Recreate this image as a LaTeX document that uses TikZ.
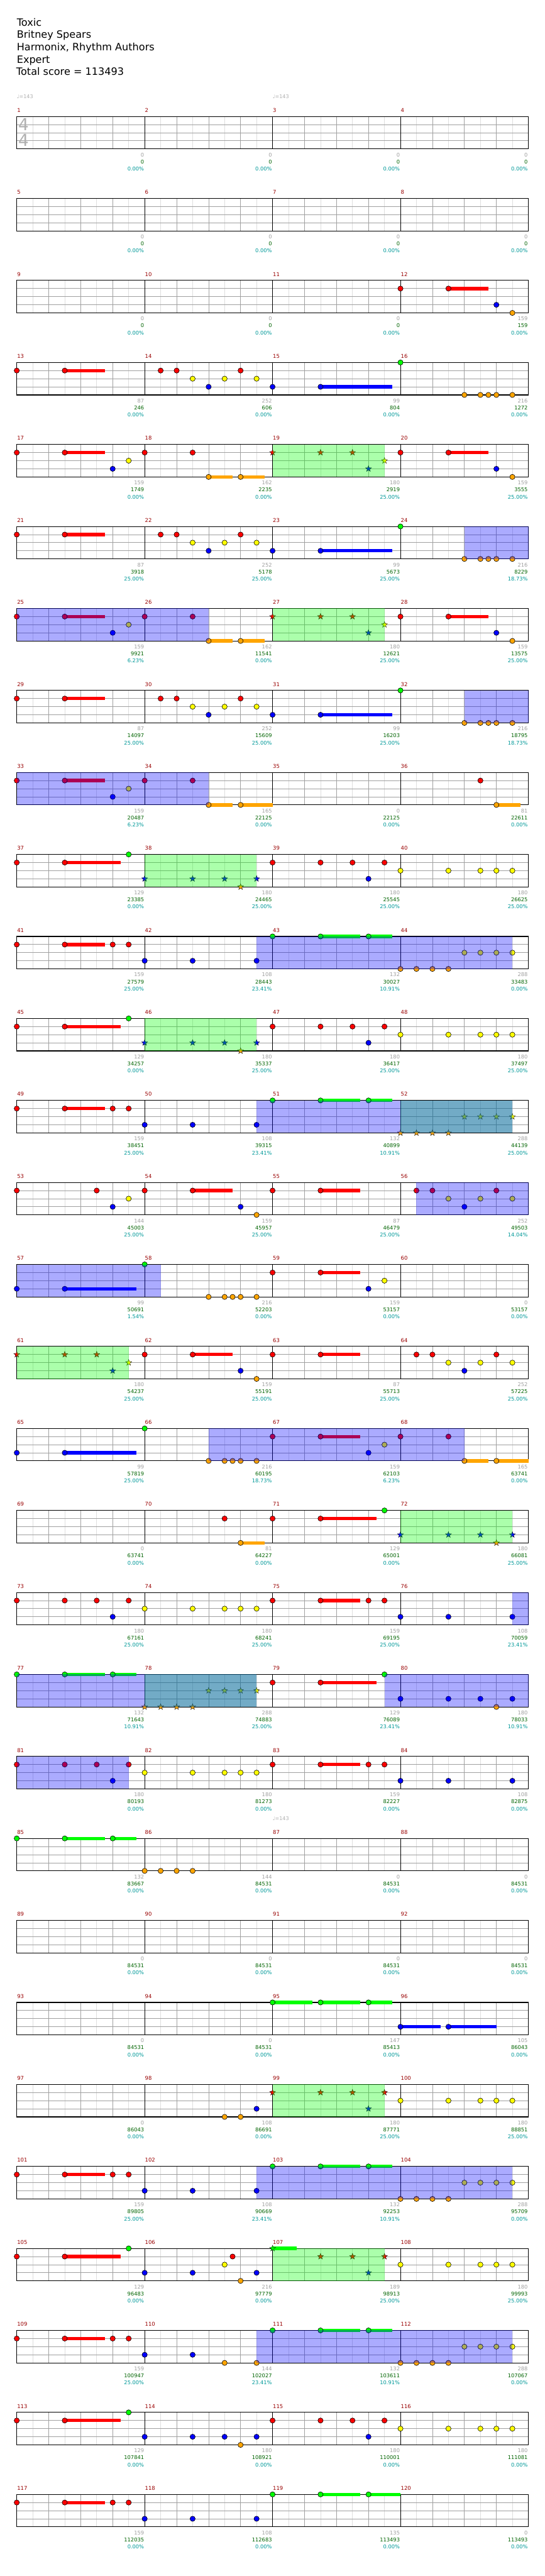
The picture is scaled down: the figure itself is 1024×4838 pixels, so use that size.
\documentclass[tikz,border=0pt]{standalone}
\usepackage{fontspec}
\setmainfont{DejaVu Sans}
\definecolor{cG}{RGB}{0,255,0}
\definecolor{cR}{RGB}{255,0,0}
\definecolor{cY}{RGB}{255,255,0}
\definecolor{cB}{RGB}{0,0,255}
\definecolor{cO}{RGB}{255,165,0}
\definecolor{gLight}{RGB}{222,222,222}
\definecolor{gMid}{RGB}{160,160,160}
\definecolor{mred}{RGB}{153,0,0}
\definecolor{ngray}{RGB}{160,160,160}
\definecolor{ngreen}{RGB}{0,100,0}
\definecolor{nteal}{RGB}{0,153,153}
\definecolor{tgray}{RGB}{175,175,175}
\def\lyG{0}\def\lyR{15.25}\def\lyY{30.5}\def\lyB{45.75}\def\lyO{61}
\tikzset{
  note/.style={draw=black,line width=0.7pt},
  starst/.style={draw=black,line width=0.4pt,line join=miter},
  mnum/.style={anchor=base west,inner sep=0pt,xshift=0.5pt,text=mred,font=\fontsize{10}{12}\selectfont},
  bnum/.style={anchor=base east,inner sep=0pt,xshift=-1pt,font=\fontsize{9.8}{11}\selectfont},
  tempo/.style={anchor=base west,inner sep=0pt,text=tgray,font=\fontsize{9.5}{11}\selectfont},
  tsig/.style={anchor=center,inner sep=0pt,text=tgray,font=\fontsize{31}{31}\selectfont},
  titletext/.style={anchor=base west,inner sep=0pt,font=\fontsize{19}{23}\selectfont}
}
\newcommand\Grd[1]{%
  \foreach \k in {1,3,...,31} \draw[gLight,line width=0.8pt] (\k,0) -- (\k,61);
  \foreach \k in {2,4,6,10,12,14,18,20,22,26,28,30} \draw[gMid,line width=0.8pt] (\k,0) -- (\k,61);
  \foreach \l in {15.25,30.5,45.75} \draw[gMid,line width=1pt] (0,\l) -- (32,\l);
  \foreach \k in {8,16,24} \draw[black,line width=0.8pt] (\k,0) -- (\k,61);
  \draw[black,line width=1.3pt] (0,0) rectangle (32,61);
  \foreach \k in {0,1,2,3}{\pgfmathtruncatemacro\mm{#1+\k}\node[mnum] at (8*\k,-8) {\mm};}
}
\newcommand\RowBegin[2]{\pgfmathsetmacro\T{218.7+154*(#1-1)}\begin{scope}[shift={(31.5pt,-\T pt)},x=30.04pt,y=-1pt]\Grd{#2}}
\newcommand\RowEnd{\end{scope}}
\newcommand\Nt[2]{\edef\yy{\csname ly#1\endcsname}\draw[note,fill=c#1] (#2,\yy) circle[radius=4.9pt];}
\newcommand\Ns[3]{\edef\yy{\csname ly#1\endcsname}\draw[c#1,line width=6.3pt] (#2,\yy) -- (#3,\yy);\draw[note,fill=c#1] (#2,\yy) circle[radius=4.9pt];}
\newcommand\Sr[2]{\edef\yy{\csname ly#1\endcsname}\draw[starst,fill=c#1,shift={(#2,\yy)}] (90:6pt) -- (126:2.4pt) -- (162:6pt) -- (198:2.4pt) -- (234:6pt) -- (270:2.4pt) -- (306:6pt) -- (342:2.4pt) -- (18:6pt) -- (54:2.4pt) -- cycle;}
\newcommand\Ss[3]{\edef\yy{\csname ly#1\endcsname}\draw[c#1,line width=6.3pt] (#2,\yy) -- (#3,\yy);\Sr{#1}{#2}}
\newcommand\Og[2]{\fill[cG,fill opacity=0.33] (#1,0) rectangle (#2,61);}
\newcommand\Ob[2]{\fill[cB,fill opacity=0.33] (#1,0) rectangle (#2,61);}
\newcommand\Nm[4]{%
  \node[bnum,text=ngray] at (8*#1,75.6) {#2};
  \node[bnum,text=ngreen] at (8*#1,88.6) {#3};
  \node[bnum,text=nteal] at (8*#1,102) {#4\%};}
\newcommand\Tempo[1]{\node[tempo] at (#1,-33.7) {♩=143};}
\newcommand\PatA{\Nt R{0}\Ns R{3}{5.5}\Nt R{9}\Nt R{10}\Nt Y{11}\Nt B{12}\Nt Y{13}\Nt R{14}\Nt Y{15}\Nt B{16}\Ns B{19}{23.5}\Nt G{24}\Nt O{28}\Nt O{29}\Nt O{29.5}\Nt O{30}\Nt O{31}}
\newcommand\PatB{\Nt R{0}\Ns R{3}{5.5}\Nt B{6}\Nt Y{7}\Nt R{8}\Nt R{11}\Ns O{12}{13.5}\Ns O{14}{15.5}\Sr R{16}\Sr R{19}\Sr R{21}\Sr B{22}\Sr Y{23}\Nt R{24}\Ns R{27}{29.5}\Nt B{30}\Nt O{31}}
\newcommand\PatC{\Nt R{0}\Ns R{3}{6.5}\Nt G{7}\Sr B{8}\Sr B{11}\Sr B{13}\Sr O{14}\Sr B{15}\Nt R{16}\Nt R{19}\Nt R{21}\Nt B{22}\Nt R{23}\Nt Y{24}\Nt Y{27}\Nt Y{29}\Nt Y{30}\Nt Y{31}\Og{8}{15}}
\newcommand\PatD{\Nt R{0}\Ns R{3}{5.5}\Nt R{6}\Nt R{7}\Nt B{8}\Nt B{11}\Nt B{15}\Nt G{16}\Ns G{19}{21.5}\Ns G{22}{23.5}\Nt O{24}\Nt O{25}\Nt O{26}\Nt O{27}\Nt Y{28}\Nt Y{29}\Nt Y{30}\Nt Y{31}\Ob{15}{31}}
\newcommand\PatE{\Nt R{0}\Nt R{3}\Nt R{5}\Nt B{6}\Nt R{7}\Nt Y{8}\Nt Y{11}\Nt Y{13}\Nt Y{14}\Nt Y{15}\Nt R{16}\Ns R{19}{21.5}\Nt R{22}\Nt R{23}\Nt B{24}\Nt B{27}\Nt B{31}}
\begin{document}
\begin{tikzpicture}[x=1pt,y=-1pt]
\useasboundingbox (0,0) rectangle (1024,4838);
\fill[white] (0,0) rectangle (1024,4838);
\node[titletext] (t1) at (31.5,49) {Toxic};
\node[titletext] (t2) at (31.5,71.7) {Britney Spears};
\node[titletext] (t3) at (31.5,95) {Harmonix, Rhythm Authors};
\node[titletext] (t4) at (31.5,118.3) {Expert};
\node[titletext] (t5) at (30.5,141) {Total score = 113493};
% row 1
\RowBegin{1}{1}
\node[tsig] at (0.42,14.6) {4};\node[tsig] at (0.42,44.6) {4};
\Tempo{0}\Tempo{16}
\Nm1{0}{0}{0.00}\Nm2{0}{0}{0.00}\Nm3{0}{0}{0.00}\Nm4{0}{0}{0.00}
\RowEnd
\RowBegin{2}{5}
\Nm1{0}{0}{0.00}\Nm2{0}{0}{0.00}\Nm3{0}{0}{0.00}\Nm4{0}{0}{0.00}
\RowEnd
\RowBegin{3}{9}
\Nt R{24}\Ns R{27}{29.5}\Nt B{30}\Nt O{31}
\Nm1{0}{0}{0.00}\Nm2{0}{0}{0.00}\Nm3{0}{0}{0.00}\Nm4{159}{159}{0.00}
\RowEnd
\RowBegin{4}{13}
\PatA
\Nm1{87}{246}{0.00}\Nm2{252}{606}{0.00}\Nm3{99}{804}{0.00}\Nm4{216}{1272}{0.00}
\RowEnd
\RowBegin{5}{17}
\PatB \Og{16}{23}
\Nm1{159}{1749}{0.00}\Nm2{162}{2235}{0.00}\Nm3{180}{2919}{25.00}\Nm4{159}{3555}{25.00}
\RowEnd
\RowBegin{6}{21}
\PatA \Ob{28}{32}
\Nm1{87}{3918}{25.00}\Nm2{252}{5178}{25.00}\Nm3{99}{5673}{25.00}\Nm4{216}{8229}{18.73}
\RowEnd
\RowBegin{7}{25}
\PatB \Og{16}{23}\Ob{0}{12}
\Nm1{159}{9921}{6.23}\Nm2{162}{11541}{0.00}\Nm3{180}{12621}{25.00}\Nm4{159}{13575}{25.00}
\RowEnd
\RowBegin{8}{29}
\PatA \Ob{28}{32}
\Nm1{87}{14097}{25.00}\Nm2{252}{15609}{25.00}\Nm3{99}{16203}{25.00}\Nm4{216}{18795}{18.73}
\RowEnd
\RowBegin{9}{33}
\Nt R{0}\Ns R{3}{5.5}\Nt B{6}\Nt Y{7}\Nt R{8}\Nt R{11}\Ns O{12}{13.5}\Ns O{14}{16}\Nt R{29}\Ns O{30}{31.5}
\Ob{0}{12}
\Nm1{159}{20487}{6.23}\Nm2{165}{22125}{0.00}\Nm3{0}{22125}{0.00}\Nm4{81}{22611}{0.00}
\RowEnd
\RowBegin{10}{37}
\PatC
\Nm1{129}{23385}{0.00}\Nm2{180}{24465}{25.00}\Nm3{180}{25545}{25.00}\Nm4{180}{26625}{25.00}
\RowEnd
\RowBegin{11}{41}
\PatD
\Nm1{159}{27579}{25.00}\Nm2{108}{28443}{23.41}\Nm3{132}{30027}{10.91}\Nm4{288}{33483}{0.00}
\RowEnd
\RowBegin{12}{45}
\PatC
\Nm1{129}{34257}{0.00}\Nm2{180}{35337}{25.00}\Nm3{180}{36417}{25.00}\Nm4{180}{37497}{25.00}
\RowEnd
\RowBegin{13}{49}
\Nt R{0}\Ns R{3}{5.5}\Nt R{6}\Nt R{7}\Nt B{8}\Nt B{11}\Nt B{15}\Nt G{16}\Ns G{19}{21.5}\Ns G{22}{23.5}\Sr O{24}\Sr O{25}\Sr O{26}\Sr O{27}\Sr Y{28}\Sr Y{29}\Sr Y{30}\Sr Y{31}
\Og{24}{31}\Ob{15}{31}
\Nm1{159}{38451}{25.00}\Nm2{108}{39315}{23.41}\Nm3{132}{40899}{10.91}\Nm4{288}{44139}{25.00}
\RowEnd
\RowBegin{14}{53}
\Nt R{0}\Nt R{5}\Nt B{6}\Nt Y{7}\Nt R{8}\Ns R{11}{13.5}\Nt B{14}\Nt O{15}\Nt R{16}\Ns R{19}{21.5}\Nt R{25}\Nt R{26}\Nt Y{27}\Nt B{28}\Nt Y{29}\Nt R{30}\Nt Y{31}
\Ob{25}{32}
\Nm1{144}{45003}{25.00}\Nm2{159}{45957}{25.00}\Nm3{87}{46479}{25.00}\Nm4{252}{49503}{14.04}
\RowEnd
\RowBegin{15}{57}
\Nt B{0}\Ns B{3}{7.5}\Nt G{8}\Nt O{12}\Nt O{13}\Nt O{13.5}\Nt O{14}\Nt O{15}\Nt R{16}\Ns R{19}{21.5}\Nt B{22}\Nt Y{23}
\Ob{0}{9}
\Nm1{99}{50691}{1.54}\Nm2{216}{52203}{0.00}\Nm3{159}{53157}{0.00}\Nm4{0}{53157}{0.00}
\RowEnd
\RowBegin{16}{61}
\Sr R{0}\Sr R{3}\Sr R{5}\Sr B{6}\Sr Y{7}\Nt R{8}\Ns R{11}{13.5}\Nt B{14}\Nt O{15}\Nt R{16}\Ns R{19}{21.5}\Nt R{25}\Nt R{26}\Nt Y{27}\Nt B{28}\Nt Y{29}\Nt R{30}\Nt Y{31}
\Og{0}{7}
\Nm1{180}{54237}{25.00}\Nm2{159}{55191}{25.00}\Nm3{87}{55713}{25.00}\Nm4{252}{57225}{25.00}
\RowEnd
\RowBegin{17}{65}
\Nt B{0}\Ns B{3}{7.5}\Nt G{8}\Nt O{12}\Nt O{13}\Nt O{13.5}\Nt O{14}\Nt O{15}\Nt R{16}\Ns R{19}{21.5}\Nt B{22}\Nt Y{23}\Nt R{24}\Nt R{27}\Ns O{28}{29.5}\Ns O{30}{32}
\Ob{12}{28}
\Nm1{99}{57819}{25.00}\Nm2{216}{60195}{18.73}\Nm3{159}{62103}{6.23}\Nm4{165}{63741}{0.00}
\RowEnd
\RowBegin{18}{69}
\Nt R{13}\Ns O{14}{15.5}\Nt R{16}\Ns R{19}{22.5}\Nt G{23}\Sr B{24}\Sr B{27}\Sr B{29}\Sr O{30}\Sr B{31}
\Og{24}{31}
\Nm1{0}{63741}{0.00}\Nm2{81}{64227}{0.00}\Nm3{129}{65001}{0.00}\Nm4{180}{66081}{25.00}
\RowEnd
\RowBegin{19}{73}
\PatE \Ob{31}{32}
\Nm1{180}{67161}{25.00}\Nm2{180}{68241}{25.00}\Nm3{159}{69195}{25.00}\Nm4{108}{70059}{23.41}
\RowEnd
\RowBegin{20}{77}
\Nt G{0}\Ns G{3}{5.5}\Ns G{6}{7.5}\Sr O{8}\Sr O{9}\Sr O{10}\Sr O{11}\Sr Y{12}\Sr Y{13}\Sr Y{14}\Sr Y{15}\Nt R{16}\Ns R{19}{22.5}\Nt G{23}\Nt B{24}\Nt B{27}\Nt B{29}\Nt O{30}\Nt B{31}
\Og{8}{15}\Ob{0}{15}\Ob{23}{32}
\Nm1{132}{71643}{10.91}\Nm2{288}{74883}{25.00}\Nm3{129}{76089}{23.41}\Nm4{180}{78033}{10.91}
\RowEnd
\RowBegin{21}{81}
\PatE \Ob{0}{7}
\Nm1{180}{80193}{0.00}\Nm2{180}{81273}{0.00}\Nm3{159}{82227}{0.00}\Nm4{108}{82875}{0.00}
\RowEnd
\RowBegin{22}{85}
\Tempo{16}
\Nt G{0}\Ns G{3}{5.5}\Ns G{6}{7.5}\Nt O{8}\Nt O{9}\Nt O{10}\Nt O{11}
\Nm1{132}{83667}{0.00}\Nm2{144}{84531}{0.00}\Nm3{0}{84531}{0.00}\Nm4{0}{84531}{0.00}
\RowEnd
\RowBegin{23}{89}
\Nm1{0}{84531}{0.00}\Nm2{0}{84531}{0.00}\Nm3{0}{84531}{0.00}\Nm4{0}{84531}{0.00}
\RowEnd
\RowBegin{24}{93}
\Ns G{16}{18.5}\Ns G{19}{21.5}\Ns G{22}{23.5}\Ns B{24}{26.5}\Ns B{27}{30}
\Nm1{0}{84531}{0.00}\Nm2{0}{84531}{0.00}\Nm3{147}{85413}{0.00}\Nm4{105}{86043}{0.00}
\RowEnd
\RowBegin{25}{97}
\Nt O{13}\Nt O{14}\Nt B{15}\Sr R{16}\Sr R{19}\Sr R{21}\Sr B{22}\Sr R{23}\Nt Y{24}\Nt Y{27}\Nt Y{29}\Nt Y{30}\Nt Y{31}
\Og{16}{23}
\Nm1{0}{86043}{0.00}\Nm2{108}{86691}{0.00}\Nm3{180}{87771}{25.00}\Nm4{180}{88851}{25.00}
\RowEnd
\RowBegin{26}{101}
\PatD
\Nm1{159}{89805}{25.00}\Nm2{108}{90669}{23.41}\Nm3{132}{92253}{10.91}\Nm4{288}{95709}{0.00}
\RowEnd
\RowBegin{27}{105}
\Nt R{0}\Ns R{3}{6.5}\Nt G{7}\Nt B{8}\Nt B{11}\Nt Y{13}\Nt R{13.5}\Nt O{14}\Nt B{15}\Ss G{16}{17.5}\Sr R{19}\Sr R{21}\Sr B{22}\Sr R{23}\Nt Y{24}\Nt Y{27}\Nt Y{29}\Nt Y{30}\Nt Y{31}
\Og{16}{23}
\Nm1{129}{96483}{0.00}\Nm2{216}{97779}{0.00}\Nm3{189}{98913}{25.00}\Nm4{180}{99993}{25.00}
\RowEnd
\RowBegin{28}{109}
\Nt R{0}\Ns R{3}{5.5}\Nt R{6}\Nt R{7}\Nt B{8}\Nt B{11}\Nt O{13}\Nt O{15}\Nt G{16}\Ns G{19}{21.5}\Ns G{22}{23.5}\Nt O{24}\Nt O{25}\Nt O{26}\Nt O{27}\Nt Y{28}\Nt Y{29}\Nt Y{30}\Nt Y{31}
\Ob{15}{31}
\Nm1{159}{100947}{25.00}\Nm2{144}{102027}{23.41}\Nm3{132}{103611}{10.91}\Nm4{288}{107067}{0.00}
\RowEnd
\RowBegin{29}{113}
\Nt R{0}\Ns R{3}{6.5}\Nt G{7}\Nt B{8}\Nt B{11}\Nt B{13}\Nt O{14}\Nt B{15}\Nt R{16}\Nt R{19}\Nt R{21}\Nt B{22}\Nt R{23}\Nt Y{24}\Nt Y{27}\Nt Y{29}\Nt Y{30}\Nt Y{31}
\Nm1{129}{107841}{0.00}\Nm2{180}{108921}{0.00}\Nm3{180}{110001}{0.00}\Nm4{180}{111081}{0.00}
\RowEnd
\RowBegin{30}{117}
\Nt R{0}\Ns R{3}{5.5}\Nt R{6}\Nt R{7}\Nt B{8}\Nt B{11}\Nt B{15}\Nt G{16}\Ns G{19}{21.5}\Ns G{22}{24}
\Nm1{159}{112035}{0.00}\Nm2{108}{112683}{0.00}\Nm3{135}{113493}{0.00}\Nm4{0}{113493}{0.00}
\RowEnd
\end{tikzpicture}
\end{document}
